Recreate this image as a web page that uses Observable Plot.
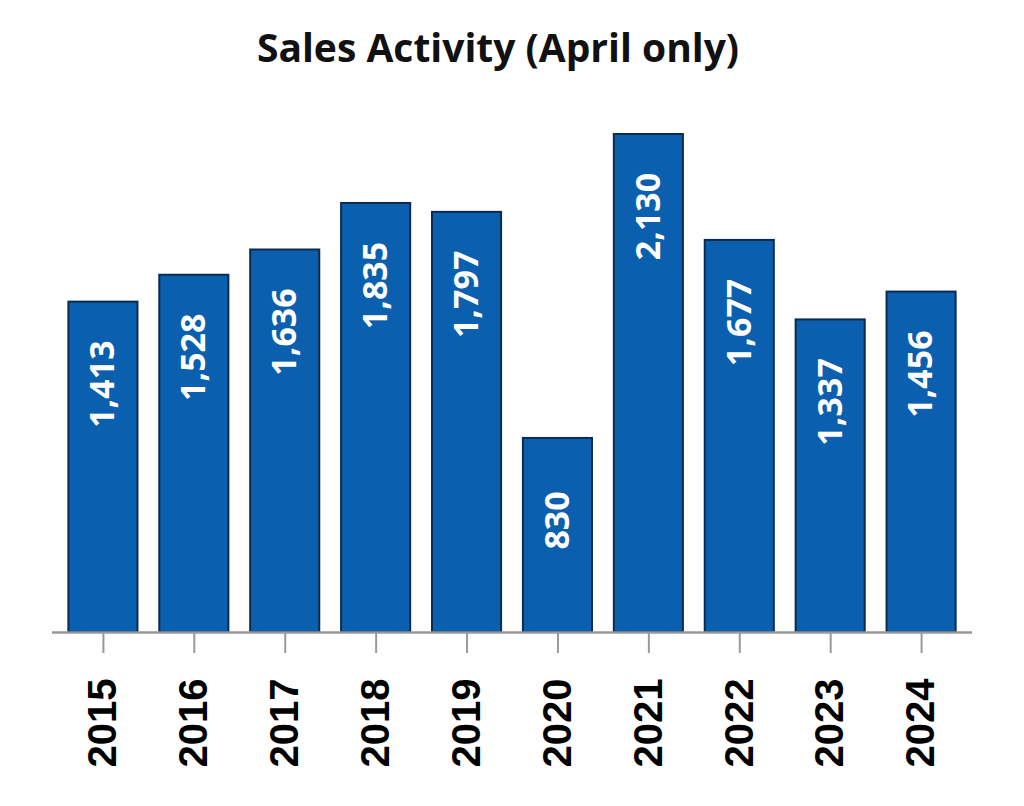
<!DOCTYPE html>
<html>
<head>
<meta charset="utf-8">
<script src="https://cdn.jsdelivr.net/npm/d3@7"></script>
<script src="https://cdn.jsdelivr.net/npm/@observablehq/plot@0.6"></script>
<style>
  body { margin: 0; background: #fff; }
  #title { width: 996px; height: 100px; text-align: center; font: 700 39px "Open Sans", sans-serif; line-height: 94px; color: #111; }
</style>
</head>
<body>
<div id="title">Sales Activity (April only)</div>
<div id="chart"></div>
<script>
const years = ["2015","2016","2017","2018","2019","2020","2021","2022","2023","2024"];
const sales = [1413, 1528, 1636, 1835, 1797, 830, 2130, 1677, 1337, 1456];

const data = years.map((y, i) => ({year: y, value: sales[i]}));
const fmt = d3.format(",");

const chart = Plot.plot({
  width: 1024,
  height: 706,
  marginTop: 34,
  marginBottom: 174,
  marginLeft: 52,
  marginRight: 52,
  style: {fontFamily: "'Liberation Sans', Arial, sans-serif", background: "#fff"},
  x: {domain: years, paddingInner: 0.24, paddingOuter: 0.18, round: false, label: null},
  y: {domain: [0, 2130], axis: null},
  marks: [
    Plot.barY(data, {x: "year", y: "value", fill: "#0a5fae", stroke: "#0d2b4e", strokeWidth: 2}),
    Plot.text(data, {
      x: "year", y: "value", text: d => fmt(d.value), rotate: -90,
      dy: 82, textAnchor: "middle", lineAnchor: "middle",
      fill: "white", fontSize: 34, fontWeight: "bold", fontFamily: "'Open Sans', sans-serif"
    }),
    Plot.ruleY([0], {stroke: "#999", strokeWidth: 2.5}),
    Plot.axisX({
      tickSize: 21, tickPadding: 25, tickRotate: -90, stroke: "#999", strokeWidth: 2,
      fill: "#000", fontSize: 40, fontWeight: "bold", label: null
    })
  ]
});
document.getElementById("chart").appendChild(chart);
</script>
</body>
</html>
